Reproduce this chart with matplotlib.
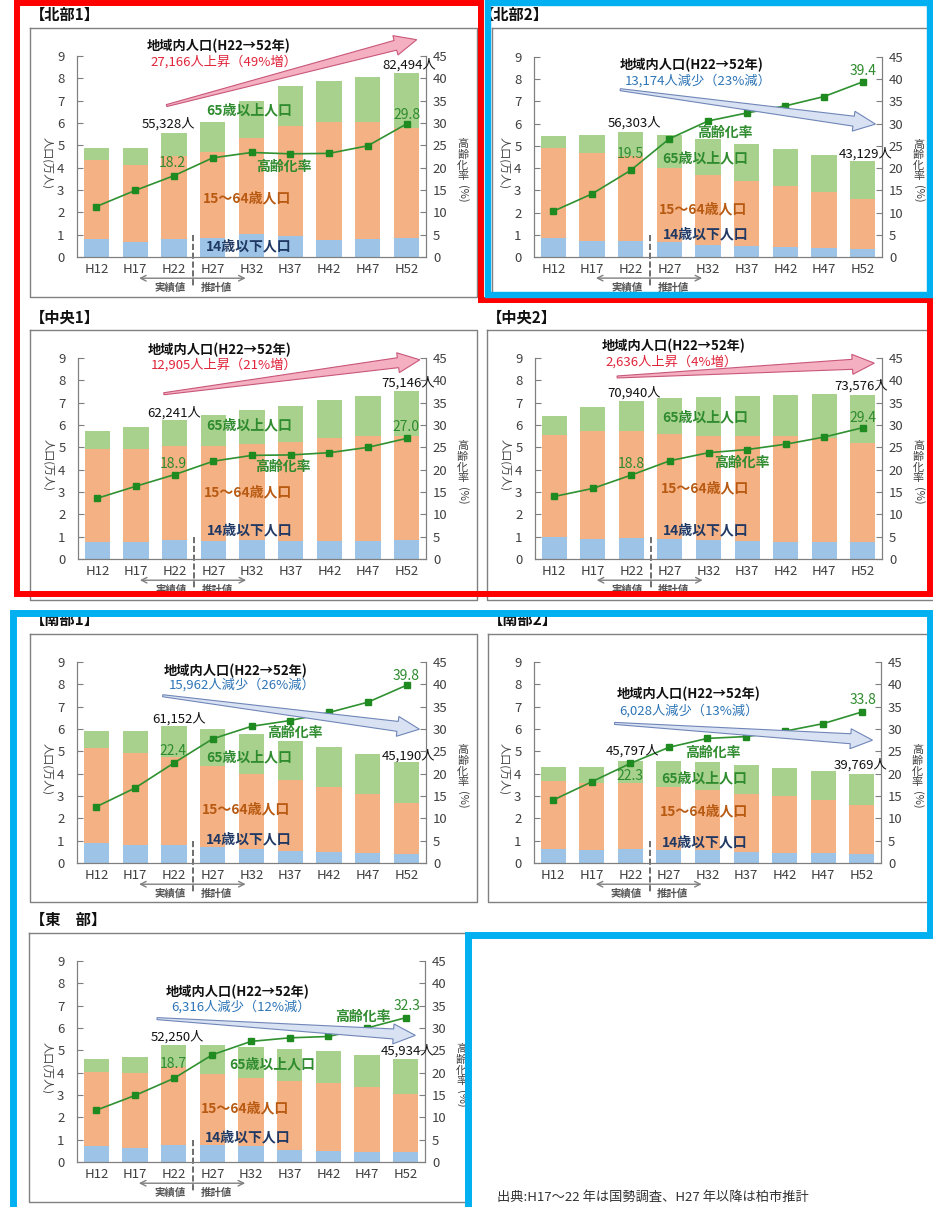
import matplotlib
matplotlib.use('Agg')
import matplotlib.pyplot as plt
from matplotlib.patches import Polygon
import numpy as np

plt.rcParams['font.family'] = ['Noto Sans CJK JP', 'DejaVu Sans']

years = ['H12', 'H17', 'H22', 'H27', 'H32', 'H37', 'H42', 'H47', 'H52']

# values in 万人 (stack: 14歳以下 / 15～64歳 / 65歳以上) and 高齢化率 in %
hokubu1_young = [0.81, 0.67, 0.81, 0.87, 1.04, 0.94, 0.75, 0.81, 0.87]
hokubu1_work = [3.55, 3.45, 3.70, 3.82, 4.30, 4.94, 5.31, 5.25, 4.91]
hokubu1_old = [0.54, 0.75, 1.02, 1.37, 1.63, 1.76, 1.84, 2.01, 2.47]
hokubu1_rate = [11.3, 14.9, 18.2, 22.2, 23.4, 23.1, 23.2, 24.9, 29.8]
hokubu1_totals = ['55,328人', '82,494人']
hokubu1_change = '27,166人上昇（49%増）'

hokubu2_young = [0.87, 0.70, 0.72, 0.67, 0.55, 0.51, 0.45, 0.39, 0.34]
hokubu2_work = [4.03, 3.99, 3.81, 3.35, 3.14, 2.93, 2.76, 2.55, 2.26]
hokubu2_old = [0.56, 0.80, 1.10, 1.47, 1.63, 1.64, 1.66, 1.66, 1.71]
hokubu2_rate = [10.3, 14.2, 19.5, 26.6, 30.6, 32.4, 34.0, 36.1, 39.4]
hokubu2_totals = ['56,303人', '43,129人']
hokubu2_change = '13,174人減少（23%減）'

chuo1_young = [0.76, 0.76, 0.84, 0.82, 0.84, 0.81, 0.81, 0.82, 0.85]
chuo1_work = [4.16, 4.16, 4.20, 4.22, 4.32, 4.45, 4.60, 4.70, 4.64]
chuo1_old = [0.79, 0.98, 1.18, 1.40, 1.51, 1.60, 1.71, 1.79, 2.02]
chuo1_rate = [13.6, 16.3, 18.9, 21.9, 23.2, 23.3, 23.8, 25.0, 27.0]
chuo1_totals = ['62,241人', '75,146人']
chuo1_change = '12,905人上昇（21%増）'

chuo2_young = [0.97, 0.91, 0.96, 0.88, 0.85, 0.82, 0.78, 0.76, 0.75]
chuo2_work = [4.56, 4.80, 4.78, 4.73, 4.67, 4.68, 4.71, 4.65, 4.44]
chuo2_old = [0.88, 1.09, 1.35, 1.59, 1.73, 1.78, 1.86, 1.97, 2.17]
chuo2_rate = [14.0, 15.8, 18.8, 22.0, 23.8, 24.5, 25.7, 27.3, 29.4]
chuo2_totals = ['70,940人', '73,576人']
chuo2_change = '2,636人上昇（4%増）'

nanbu1_young = [0.91, 0.81, 0.79, 0.70, 0.61, 0.54, 0.49, 0.45, 0.40]
nanbu1_work = [4.22, 4.11, 3.96, 3.63, 3.39, 3.17, 2.93, 2.64, 2.30]
nanbu1_old = [0.79, 1.00, 1.37, 1.67, 1.76, 1.76, 1.77, 1.77, 1.82]
nanbu1_rate = [12.6, 16.8, 22.4, 27.8, 30.6, 31.9, 33.7, 36.0, 39.8]
nanbu1_totals = ['61,152人', '45,190人']
nanbu1_change = '15,962人減少（26%減）'

nanbu2_young = [0.64, 0.57, 0.63, 0.57, 0.57, 0.49, 0.46, 0.43, 0.40]
nanbu2_work = [3.04, 2.99, 2.93, 2.82, 2.69, 2.62, 2.54, 2.40, 2.21]
nanbu2_old = [0.60, 0.76, 1.02, 1.18, 1.24, 1.27, 1.26, 1.30, 1.37]
nanbu2_rate = [14.1, 18.2, 22.3, 25.9, 27.9, 28.3, 29.5, 31.2, 33.8]
nanbu2_totals = ['45,797人', '39,769人']
nanbu2_change = '6,028人減少（13%減）'

tobu_young = [0.72, 0.64, 0.75, 0.78, 0.72, 0.54, 0.51, 0.46, 0.43]
tobu_work = [3.31, 3.35, 3.50, 3.16, 3.06, 3.10, 3.01, 2.91, 2.61]
tobu_old = [0.57, 0.73, 0.98, 1.30, 1.37, 1.42, 1.44, 1.41, 1.55]
tobu_rate = [11.6, 14.9, 18.7, 24.0, 27.0, 27.8, 28.1, 30.0, 32.3]
tobu_totals = ['52,250人', '45,934人']
tobu_change = '6,316人減少（12%減）'

C_YOUNG = '#9DC3E6'
C_WORK = '#F4B183'
C_OLD = '#A9D18E'
C_LINE = '#2F9130'
C_GREEN_TXT = '#2E8B2E'
C_AXIS = '#7F7F7F'
C_TXT = '#404040'

W, H = 933, 1207
fig = plt.figure(figsize=(W / 100, H / 100), dpi=100)
fig.patch.set_facecolor('white')

# overlay in pixel coordinates (drawn on top): arrows, frames, titles, borders
ov = fig.add_axes([0, 0, 1, 1], zorder=10)
ov.set_xlim(0, W)
ov.set_ylim(H, 0)
ov.axis('off')
ov.patch.set_alpha(0)


def px_axes(l, t, r, b):
    return fig.add_axes([l / W, 1 - b / H, (r - l) / W, (b - t) / H])


def to_px(ax, pt):
    disp = ax.transData.transform(pt)
    return ov.transData.inverted().transform(disp)


def wedge_arrow(p0, p1, fc, ec, tail_w=2, shaft_w=10, head_w=20, head_len=22):
    p0, p1 = np.asarray(p0), np.asarray(p1)
    d = (p1 - p0) / np.hypot(*(p1 - p0))
    n = np.array([-d[1], d[0]])
    base = p1 - d * head_len
    pts = [p0 + n * tail_w / 2, base + n * shaft_w / 2, base + n * head_w / 2, p1,
           base - n * head_w / 2, base - n * shaft_w / 2, p0 - n * tail_w / 2]
    ov.add_patch(Polygon(pts, closed=True, fc=fc, ec=ec, lw=0.8, zorder=1))


def draw_panel(box, young, work, old, rate, totals, change, increase, lay):
    ax = px_axes(*box)
    x = np.arange(len(years))
    ax.bar(x, young, 0.65, color=C_YOUNG, zorder=2)
    ax.bar(x, work, 0.65, bottom=young, color=C_WORK, zorder=2)
    ax.bar(x, old, 0.65, bottom=np.add(young, work), color=C_OLD, zorder=2)
    ax.set_xlim(-0.5, 8.5)
    ax.set_ylim(0, 9)
    ax.set_yticks(range(10))
    ax.set_xticks(x, years)
    ax.tick_params(axis='y', direction='in', length=4, color=C_AXIS,
                   labelsize=9.5, labelcolor=C_TXT, pad=9)
    ax.tick_params(axis='x', length=0, labelsize=9.5, labelcolor=C_TXT, pad=4)
    ax.spines['top'].set_visible(False)
    for s in ['left', 'bottom', 'right']:
        ax.spines[s].set_color(C_AXIS)

    ax2 = ax.twinx()
    ax2.set_ylim(0, 45)
    ax2.set_yticks(range(0, 46, 5))
    ax2.tick_params(axis='y', direction='in', length=4, color=C_AXIS,
                    labelsize=9.5, labelcolor=C_TXT, pad=5)
    ax2.spines['top'].set_visible(False)
    for s in ['left', 'bottom', 'right']:
        ax2.spines[s].set_color(C_AXIS)
    ax2.plot(x, rate, color=C_LINE, lw=1.2, marker='s', ms=5,
             mfc='#1F8A1F', mec='#1F8A1F', zorder=3)

    T = ax.transData
    # y-axis labels
    ax.text(-0.086, 0.47, '人口(万人)', transform=ax.transAxes, rotation=-90,
            ha='center', va='center', fontsize=8, color=C_TXT)
    ax.text(1.105, 0.585, '高\n齢\n化\n率', transform=ax.transAxes,
            ha='center', va='top', fontsize=8, linespacing=1.05, color=C_TXT)
    ax.text(1.105, 0.36, '(%)', transform=ax.transAxes, rotation=-90,
            ha='center', va='top', fontsize=8, color=C_TXT)

    # trend arrow
    if increase:
        afc, aec, ctxt = '#F4AFC1', '#C9577A', '#E0243A'
    else:
        afc, aec, ctxt = '#D9E2F3', '#7086B8', '#2E75B6'
    a0, a1 = lay['arrow']
    wedge_arrow(to_px(ax, a0), to_px(ax, a1), afc, aec)

    def txt(key, s, **kw):
        kw.setdefault('fontsize', 9.5)
        ax2.text(*lay[key], s, transform=T, ha='center', va='center',
                 zorder=5, clip_on=False, **kw)

    txt('head', '地域内人口(H22→52年)', fontweight='bold', color='#111111')
    txt('change', change, color=ctxt)
    txt('start', totals[0], color='#111111')
    txt('end', totals[1], color='#111111')
    txt('old', '65歳以上人口', fontweight='bold', fontsize=10, color=C_GREEN_TXT)
    txt('work', '15～64歳人口', fontweight='bold', fontsize=10, color='#B85A12')
    txt('kid', '14歳以下人口', fontweight='bold', fontsize=10, color='#1F3864')
    txt('ratelab', '高齢化率', fontweight='bold', fontsize=10, color=C_GREEN_TXT)
    txt('r22', f'{rate[2]:.1f}', color=C_GREEN_TXT, fontsize=10)
    txt('r52', f'{rate[8]:.1f}', color=C_GREEN_TXT, fontsize=10)

    # actual / projected marker
    ax.plot([2.5, 2.5], [1.0, -1.3], ls='--', color='#555555', lw=1.2,
            clip_on=False, zorder=5)
    for xe in (1.1, 3.85):
        ax.annotate('', xy=(xe, -0.95), xytext=(2.5, -0.95), xycoords='data',
                    arrowprops=dict(arrowstyle='->', color='#808080', lw=1,
                                    shrinkA=0, shrinkB=0),
                    annotation_clip=False)
    ax.text(1.9, -1.38, '実績値', ha='center', va='center', fontsize=7.5,
            fontweight='bold', color='#555555')
    ax.text(3.1, -1.38, '推計値', ha='center', va='center', fontsize=7.5,
            fontweight='bold', color='#555555')
    return ax


panels = [
    ((77, 56, 426, 257), hokubu1_young, hokubu1_work, hokubu1_old, hokubu1_rate,
     hokubu1_totals, hokubu1_change, True,
     dict(head=(3.15, 9.43), change=(3.28, 8.76), arrow=((1.81, 6.78), (8.26, 9.73)),
          start=(1.85, 5.94), end=(8.07, 8.58), old=(3.95, 6.57), work=(3.88, 2.61),
          kid=(3.93, 0.48), ratelab=(4.83, 4.03), r22=(1.97, 4.22), r52=(8.0, 6.37))),
    ((534, 57, 882, 257), hokubu2_young, hokubu2_work, hokubu2_old, hokubu2_rate,
     hokubu2_totals, hokubu2_change, False,
     dict(head=(3.58, 8.62), change=(3.75, 7.95), arrow=((1.73, 7.53), (8.33, 5.98)),
          start=(2.10, 6.04), end=(8.07, 4.63), old=(3.93, 4.44), work=(3.88, 2.12),
          kid=(3.93, 1.03), ratelab=(4.44, 5.59), r22=(1.99, 4.62), r52=(8.02, 8.37))),
    ((78, 358, 426, 559), chuo1_young, chuo1_work, chuo1_old, chuo1_rate,
     chuo1_totals, chuo1_change, True,
     dict(head=(3.15, 9.37), change=(3.28, 8.70), arrow=((1.72, 7.40), (8.34, 8.92)),
          start=(1.98, 6.53), end=(8.04, 7.88), old=(3.93, 5.98), work=(3.89, 2.97),
          kid=(3.95, 1.27), ratelab=(4.81, 4.14), r22=(1.97, 4.25), r52=(7.98, 5.89))),
    ((535, 358, 882, 559), chuo2_young, chuo2_work, chuo2_old, chuo2_rate,
     chuo2_totals, chuo2_change, True,
     dict(head=(3.10, 9.52), change=(3.05, 8.85), arrow=((1.63, 8.15), (8.30, 8.77)),
          start=(2.06, 7.43), end=(7.96, 7.76), old=(3.91, 6.35), work=(3.91, 3.14),
          kid=(3.93, 1.30), ratelab=(4.86, 4.32), r22=(2.0, 4.25), r52=(8.0, 6.31))),
    ((77, 662, 426, 863), nanbu1_young, nanbu1_work, nanbu1_old, nanbu1_rate,
     nanbu1_totals, nanbu1_change, False,
     dict(head=(3.58, 8.61), change=(3.75, 7.97), arrow=((1.71, 7.49), (8.33, 5.99)),
          start=(2.14, 6.44), end=(8.05, 4.80), old=(3.93, 4.75), work=(3.87, 2.38),
          kid=(3.93, 1.06), ratelab=(5.13, 5.84), r22=(1.97, 5.01), r52=(8.0, 8.37))),
    ((534, 662, 881, 863), nanbu2_young, nanbu2_work, nanbu2_old, nanbu2_rate,
     nanbu2_totals, nanbu2_change, False,
     dict(head=(3.51, 7.55), change=(3.53, 6.83), arrow=((1.59, 6.25), (8.28, 5.50)),
          start=(2.06, 5.01), end=(7.98, 4.38), old=(3.92, 3.81), work=(3.92, 2.29),
          kid=(3.92, 0.90), ratelab=(4.14, 4.95), r22=(2.0, 3.90), r52=(8.03, 7.29))),
    ((77, 961, 425, 1162), tobu_young, tobu_work, tobu_old, tobu_rate,
     tobu_totals, tobu_change, False,
     dict(head=(3.66, 7.61), change=(3.74, 6.94), arrow=((1.57, 6.42), (8.25, 5.67)),
          start=(2.09, 5.58), end=(8.06, 4.96), old=(4.56, 4.36), work=(3.85, 2.39),
          kid=(3.92, 1.10), ratelab=(6.89, 6.52), r22=(2.0, 4.40), r52=(8.04, 6.97))),
]

for p in panels:
    draw_panel(*p)

frames = [(30, 28, 477, 297), (492, 28, 935, 296), (30, 330, 477, 600),
          (487, 330, 935, 600), (30, 634, 477, 902), (488, 634, 935, 902),
          (29, 933, 470, 1202)]
for l, t, r, b in frames:
    ov.plot([l, r, r, l, l], [t, t, b, b, t], color='#808080', lw=1, zorder=2)

titles = [(30, 15, '【北部1】'), (479, 15, '【北部2】'), (30, 318, '【中央1】'),
          (487, 318, '【中央2】'), (30, 620, '【南部1】'), (488, 620, '【南部2】'),
          (30, 920, '【東　部】')]
for xt, yt, s in titles:
    ov.text(xt, yt, s, fontsize=11, fontweight='bold', va='center', ha='left',
            color='#111111', zorder=2)

ov.text(497, 1197, '出典:H17～22 年は国勢調査、H27 年以降は柏市推計', fontsize=9.5,
        va='center', ha='left', color='#333333')

RED, BLUE = '#FF0000', '#00B0F0'
ov.plot([17, 481, 481, 930, 930, 17, 17], [3, 3, 300, 300, 594, 594, 3],
        color=RED, lw=4.3, solid_joinstyle='miter', zorder=5)
ov.plot([930, 488, 488, 930, 930], [3, 3, 295, 295, 3],
        color=BLUE, lw=4.6, solid_joinstyle='miter', zorder=6)
ov.plot([13, 13, 930, 930, 468, 468], [1207, 613, 613, 935, 935, 1207],
        color=BLUE, lw=5, solid_joinstyle='miter', zorder=6)

fig.savefig('out.png', dpi=100)
